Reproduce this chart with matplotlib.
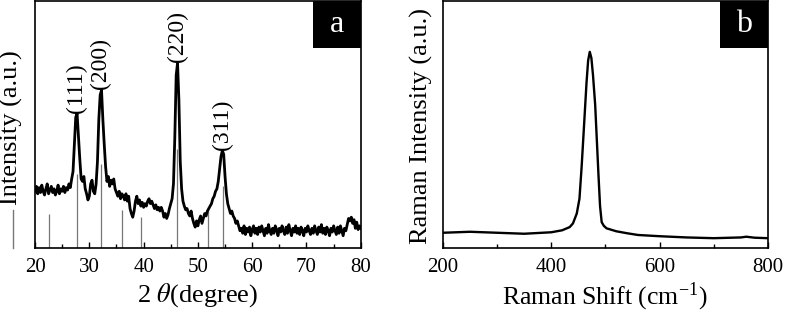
import matplotlib.pyplot as plt
from matplotlib.patches import Rectangle
import numpy as np

plt.rcParams['font.family'] = ['Liberation Serif', 'DejaVu Serif']
plt.rcParams['mathtext.fontset'] = 'stix'

# --- XRD pattern (a), 2theta 20..80 step 0.25, intensity in arbitrary units ---
two_theta = np.arange(20, 80.001, 0.25)
xrd_int = [
    23, 25, 22, 24.5,        # 20
    22.5, 25.5, 23, 21.5,    # 21
    24, 26, 22, 23.5,        # 22
    25, 22.5, 24, 21.5,      # 23
    23, 25.5, 22, 24,        # 24
    23, 25, 22.5, 24.5,      # 25
    23.5, 26, 24.5, 28,      # 26
    31, 42, 53, 54.5,        # 27
    45, 36, 28, 27,          # 28
    29, 24, 22, 19.5,        # 29
    21, 26, 27.5, 23,        # 30
    22, 26, 35, 52,          # 31
    62, 64, 52, 42,          # 32
    33, 27, 29, 25,          # 33
    27.5, 26, 28, 24,        # 34
    22.5, 21, 23, 20,        # 35
    22, 21, 19.5, 22,        # 36
    19, 21, 16, 14,          # 37
    12.5, 15, 19, 21,        # 38
    18, 19.5, 17, 18.5,      # 39
    16.5, 18, 17, 19,        # 40
    20, 18, 19, 17.5,        # 41
    16, 17.5, 15.5, 16.5,    # 42
    15, 16.5, 15, 12.5,      # 43
    14, 12, 13.5, 16,        # 44
    18, 20, 26, 45,          # 45
    70, 75, 60, 35,          # 46
    24, 19, 17, 15.5,        # 47
    16, 14, 13, 15,          # 48
    12, 10, 8.5, 11,         # 49
    9, 11.5, 13, 10,         # 50
    12, 14, 13, 15,          # 51
    16, 17, 18, 20,          # 52
    21, 23, 24, 27,          # 53
    32, 37, 39.5, 38,        # 54
    29, 22, 18, 16,          # 55
    14, 15, 13, 12,          # 56
    10, 11, 9, 7,            # 57
    8, 6, 9, 5.5,            # 58
    8, 6.5, 8.5, 5,          # 59
    7.5, 9, 6, 8,            # 60
    5.5, 8.5, 6.5, 9,        # 61
    7, 5, 8, 6,              # 62
    9.5, 7, 5.5, 8,          # 63
    6, 9, 7.5, 5,            # 64
    8, 6.5, 9, 7,            # 65
    5.5, 8.5, 6, 9.5,        # 66
    7, 5, 8, 6.5,            # 67
    9, 6, 8, 5.5,            # 68
    8.5, 7, 5, 8,            # 69
    6.5, 9, 7, 5.5,          # 70
    8, 6, 9, 7,              # 71
    5.5, 8.5, 6.5, 9.5,      # 72
    6, 8, 5.5, 8.5,          # 73
    7, 5, 8, 6.5,            # 74
    9, 7, 5.5, 8.5,          # 75
    6, 9, 7, 5,              # 76
    8, 7, 9.5, 12,           # 77
    11, 12.5, 10, 11.5,      # 78
    8, 10.5, 7.5, 9,         # 79
    8,                       # 80
]

# reference pattern sticks
ref_pos = [22.6, 27.8, 32.1, 36.1, 39.6, 46.2, 51.9, 54.6]
ref_int = [14, 30, 34, 15.6, 12.5, 40, 16.6, 25]

# peak indexing
hkl_labels = ['(111)', '(200)', '(220)', '(311)']
hkl_pos = [27.6, 32.1, 46.2, 54.5]

# --- Raman spectrum (b) ---
raman_shift = [200, 250, 300, 350, 400, 420, 434, 440, 447, 452, 456, 460, 465,
               468, 471, 474, 477, 481, 484, 487, 490, 493, 497, 502, 520, 540,
               560, 600, 650, 700, 750, 760, 775, 800]
raman_int = [6.2, 6.6, 6.2, 5.8, 6.4, 7.2, 8.5, 10, 14, 20, 33, 48, 67,
             76, 79.5, 77, 70, 58, 44, 30, 17, 10.5, 9, 8, 6.8, 6.0,
             5.3, 4.8, 4.3, 4.0, 4.3, 4.6, 4.2, 4.0]

fig = plt.figure(figsize=(7.85, 3.16), dpi=100)
ax1 = fig.add_axes([0.0446, 0.215, 0.415, 0.781])
ax2 = fig.add_axes([0.5643, 0.215, 0.414, 0.781])

# panel a
ax1.vlines(ref_pos, 0, ref_int, color='#777777', lw=0.9, zorder=1)
ax1.plot(two_theta, xrd_int, color='black', lw=2, zorder=2)
xrd_arr = np.array(xrd_int)
for lab, pos in zip(hkl_labels, hkl_pos):
    top = xrd_arr[np.abs(two_theta - pos) < 0.6].max()
    ax1.text(pos, top + 0.3, lab, rotation=90, ha='center', va='bottom', fontsize=17)
ax1.set_xlim(20, 80)
ax1.set_ylim(0, 100)
ax1.set_xticks(np.arange(20, 81, 10))
ax1.set_xticks(np.arange(25, 80, 10), minor=True)
ax1.set_xlabel(r'2 $\it{\theta}$(degree)', fontsize=19, labelpad=3)
ax1.set_ylabel('Intensity (a.u.)', fontsize=19)
ax1.yaxis.set_label_coords(-0.037, 0.49)
ax1.plot([-0.068, -0.068], [0.0, 0.155], transform=ax1.transAxes, clip_on=False,
         color='#777777', lw=1)

# panel b
ax2.plot(raman_shift, raman_int, color='black', lw=1.7)
ax2.set_xlim(200, 800)
ax2.set_ylim(0, 100)
ax2.set_xticks([200, 400, 600, 800])
ax2.set_xticks([300, 500, 700], minor=True)
ax2.set_xlabel(r'Raman Shift (cm$^{\mathregular{-1}}$)', fontsize=18.5, labelpad=3)
ax2.set_ylabel('Raman Intensity (a.u.)', fontsize=19, labelpad=5)
ax2.yaxis.set_label_coords(-0.032, 0.496)

for ax, letter in [(ax1, 'a'), (ax2, 'b')]:
    ax.set_yticks([])
    ax.tick_params(axis='x', which='major', direction='in', length=4, width=1,
                   labelsize=15, pad=7)
    ax.tick_params(axis='x', which='minor', direction='in', length=3, width=1)
    for s in ax.spines.values():
        s.set_linewidth(1.2)
    ax.add_patch(Rectangle((0.852, 0.81), 0.148, 0.19, transform=ax.transAxes,
                           facecolor='black', edgecolor='none', zorder=5))
    ax.text(0.926, 0.905, letter, transform=ax.transAxes, color='white',
            fontsize=23, ha='center', va='center', zorder=6)

fig.savefig('out.png', dpi=100)
